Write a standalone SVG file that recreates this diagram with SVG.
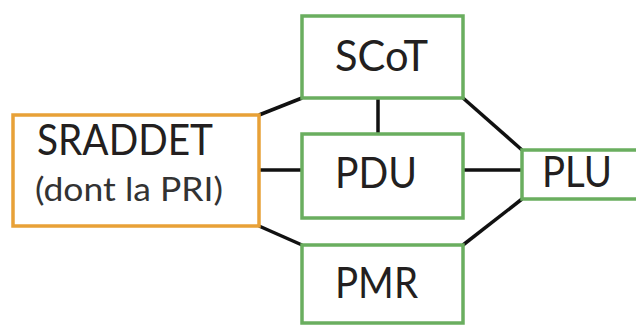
<svg xmlns="http://www.w3.org/2000/svg" width="636" height="327" viewBox="0 0 636 327">
<style>
.box{fill:#fff;stroke-width:3.5}
.g{stroke:#6aae5f}
.o{stroke:#e8a137}
.t{font-family:Lato,"Liberation Sans",sans-serif;fill:#231f20;font-size:43px}
.s{font-size:33px;fill:#333}
.c{stroke:#111;stroke-width:3.5;fill:none}
</style>
<rect width="636" height="327" fill="#fff"/>
<g id="connectors">
<line class="c" x1="259" y1="115" x2="302" y2="98"/>
<line class="c" x1="259" y1="170" x2="302" y2="170"/>
<line class="c" x1="259" y1="226" x2="302" y2="245"/>
<line class="c" x1="378" y1="98" x2="378" y2="134"/>
<line class="c" x1="463" y1="98" x2="522" y2="150"/>
<line class="c" x1="463" y1="170" x2="522" y2="170"/>
<line class="c" x1="463" y1="245" x2="522" y2="199"/>
</g>
<g id="sraddet">
<rect class="box o" x="13" y="115" width="246" height="111"/>
<text class="t" x="37" y="155" textLength="176" lengthAdjust="spacingAndGlyphs" fill="#333">SRADDET</text>
<text class="t s" x="35" y="201" textLength="188" lengthAdjust="spacingAndGlyphs">(dont la PRI)</text>
</g>
<g id="scot">
<rect class="box g" x="302" y="16" width="161" height="82"/>
<text class="t" x="335" y="71" textLength="93" lengthAdjust="spacingAndGlyphs">SCoT</text>
</g>
<g id="pdu">
<rect class="box g" x="302" y="134" width="161" height="84"/>
<text class="t" x="335" y="188" textLength="82" lengthAdjust="spacingAndGlyphs">PDU</text>
</g>
<g id="pmr">
<rect class="box g" x="302" y="245" width="161" height="78"/>
<text class="t" x="335" y="298" textLength="83" lengthAdjust="spacingAndGlyphs">PMR</text>
</g>
<g id="plu">
<rect class="box g" x="522" y="150" width="120" height="49"/>
<text class="t" x="542" y="187" textLength="70" lengthAdjust="spacingAndGlyphs">PLU</text>
</g>
</svg>
